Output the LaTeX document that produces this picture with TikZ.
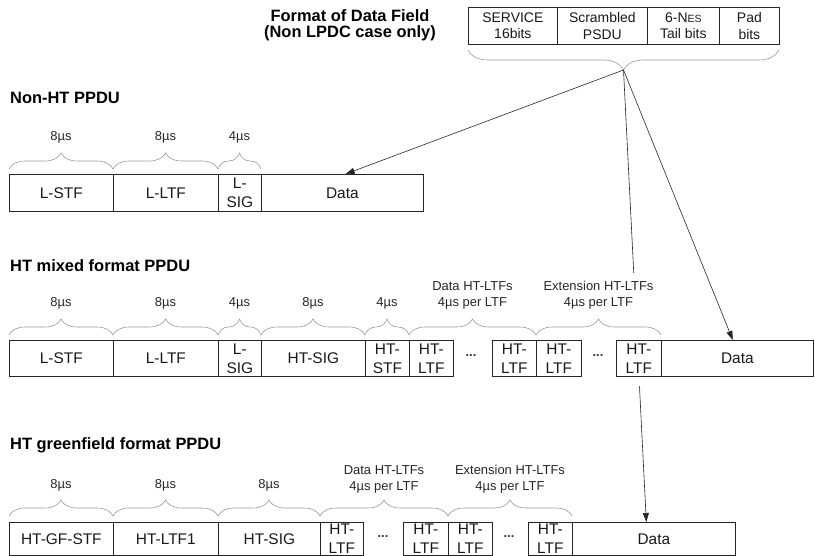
\documentclass[tikz,border=0pt]{standalone}
\usepackage{fontspec}
\setmainfont{Liberation Sans}
\usetikzlibrary{decorations.pathreplacing,arrows.meta,calc}
\begin{document}
\begin{tikzpicture}[x=1bp,y=-1bp,
  cell/.style={draw=black!85, line width=0.7bp, inner sep=0pt, anchor=north west, align=center,
    font=\fontsize{15.5}{19}\selectfont, text=black!90},
  fcell/.style={cell, font=\fontsize{14}{16.5}\selectfont, minimum height=37bp},
  lab/.style={font=\fontsize{13}{16}\selectfont, align=center, text=black!85, inner sep=0pt},
  ttl/.style={font=\fontsize{16.5}{16}\bfseries\selectfont, anchor=west, inner sep=0pt, align=center},
  br/.style={decorate, decoration={brace, amplitude=16bp}, draw=black!40, line width=0.6bp},
  conn/.style={draw=black!85, line width=0.6bp, -{Triangle[length=9bp,width=6bp]}},
  plain/.style={draw=black!85, line width=0.6bp},
  dots/.style={font=\fontsize{13}{13}\bfseries\selectfont, inner sep=0pt, text=black!80}]
\useasboundingbox (0,0) rectangle (815,556);

% ---------- Data field format ----------
\node[ttl, anchor=center, font=\fontsize{16.5}{16}\bfseries\selectfont] (t0) at (350,25.5) {Format of Data Field\\(Non LPDC case only)};
\node[fcell, minimum width=89bp] (f1) at (468,7) {SERVICE\\16bits};
\node[fcell, minimum width=90bp] (f2) at (557,7) {Scrambled\\PSDU};
\node[fcell, minimum width=72bp] (f3) at (647,7) {6-N{\fontsize{10.5}{10}\selectfont ES}\\Tail bits};
\node[fcell, minimum width=60bp] (f4) at (719,7) {Pad\\bits};
\draw[br, decoration={brace, mirror, amplitude=20bp}] (468,50) -- (779,50);
\coordinate (tip) at (623.5,70);

% ---------- Non-HT PPDU ----------
\node[ttl] (t1) at (10,98) {Non-HT PPDU};
\node[cell, minimum width=104bp, minimum height=37bp] (n1) at (9,174) {L-STF};
\node[cell, minimum width=105bp, minimum height=37bp] (n2) at (113,174) {L-LTF};
\node[cell, minimum width=43bp, minimum height=37bp] (n3) at (218,174) {L-\\SIG};
\node[cell, minimum width=162bp, minimum height=37bp] (nD) at (261,174) {Data};
\draw[br] (9,169) -- (113,169);
\draw[br] (113,169) -- (218,169);
\draw[br] (218,169) -- (261,169);
\node[lab] (nl1) at (61,137) {8µs};
\node[lab] (nl2) at (165.5,137) {8µs};
\node[lab] (nl3) at (239.5,137) {4µs};

% ---------- HT mixed format PPDU ----------
\node[ttl] (t2) at (10,266) {HT mixed format PPDU};
\node[cell, minimum width=104bp, minimum height=36bp] (m1) at (9,340) {L-STF};
\node[cell, minimum width=105bp, minimum height=36bp] (m2) at (113,340) {L-LTF};
\node[cell, minimum width=43bp, minimum height=36bp] (m3) at (218,340) {L-\\SIG};
\node[cell, minimum width=104bp, minimum height=36bp] (m4) at (261,340) {HT-SIG};
\node[cell, minimum width=44bp, minimum height=36bp] (m5) at (365,340) {HT-\\STF};
\node[cell, minimum width=44bp, minimum height=36bp] (m6) at (409,340) {HT-\\LTF};
\node[dots] (md1) at (471,356) {...};
\node[cell, minimum width=44bp, minimum height=36bp] (m7) at (492,340) {HT-\\LTF};
\node[cell, minimum width=45bp, minimum height=36bp] (m8) at (536,340) {HT-\\LTF};
\node[dots] (md2) at (598,356) {...};
\node[cell, minimum width=45bp, minimum height=36bp] (m9) at (616,340) {HT-\\LTF};
\node[cell, minimum width=152bp, minimum height=36bp] (mD) at (661,340) {Data};
\draw[br] (9,335) -- (113,335);
\draw[br] (113,335) -- (218,335);
\draw[br] (218,335) -- (261,335);
\draw[br] (261,335) -- (365,335);
\draw[br] (365,335) -- (409,335);
\draw[br] (409,335) -- (536,335);
\draw[br] (536,335) -- (661,335);
\node[lab] (ml1) at (61,303) {8µs};
\node[lab] (ml2) at (165.5,303) {8µs};
\node[lab] (ml3) at (239.5,303) {4µs};
\node[lab] (ml4) at (313,303) {8µs};
\node[lab] (ml5) at (387,303) {4µs};
\node[lab] (ml6) at (472.5,295) {Data HT-LTFs\\4µs per LTF};
\node[lab] (ml7) at (598.5,295) {Extension HT-LTFs\\4µs per LTF};

% ---------- HT greenfield format PPDU ----------
\node[ttl] (t3) at (10,445) {HT greenfield format PPDU};
\node[cell, minimum width=104bp, minimum height=33bp] (g1) at (9,522) {HT-GF-STF};
\node[cell, minimum width=105bp, minimum height=33bp] (g2) at (113,522) {HT-LTF1};
\node[cell, minimum width=102bp, minimum height=33bp] (g3) at (218,522) {HT-SIG};
\node[cell, minimum width=43bp, minimum height=33bp] (g4) at (320,522) {HT-\\LTF};
\node[dots] (gd1) at (383,537) {...};
\node[cell, minimum width=45bp, minimum height=33bp] (g5) at (403,522) {HT-\\LTF};
\node[cell, minimum width=44bp, minimum height=33bp] (g6) at (448,522) {HT-\\LTF};
\node[dots] (gd2) at (509,537) {...};
\node[cell, minimum width=44bp, minimum height=33bp] (g7) at (528,522) {HT-\\LTF};
\node[cell, minimum width=163bp, minimum height=33bp] (gD) at (572,522) {Data};
\draw[br] (9,516) -- (113,516);
\draw[br] (113,516) -- (218,516);
\draw[br] (218,516) -- (320,516);
\draw[br] (320,516) -- (448,516);
\draw[br] (448,516) -- (572,516);
\node[lab] (gl1) at (61,485) {8µs};
\node[lab] (gl2) at (165.5,485) {8µs};
\node[lab] (gl3) at (269,485) {8µs};
\node[lab] (gl4) at (384,479) {Data HT-LTFs\\4µs per LTF};
\node[lab] (gl5) at (510,479) {Extension HT-LTFs\\4µs per LTF};

% ---------- connectors ----------
\coordinate (nt) at ($(nD.north west)!0.52!(nD.north east)$);
\coordinate (mt) at ($(mD.north west)!0.47!(mD.north east)$);
\coordinate (gt) at ($(gD.north west)!0.454!(gD.north east)$);
\draw[conn] (tip) -- (nt);
\draw[conn] (tip) -- (mt);
\draw[plain] (tip) -- ($(tip)!0.449!(gt)$);
\draw[conn] ($(tip)!0.70!(gt)$) -- (gt);
\end{tikzpicture}
\end{document}
